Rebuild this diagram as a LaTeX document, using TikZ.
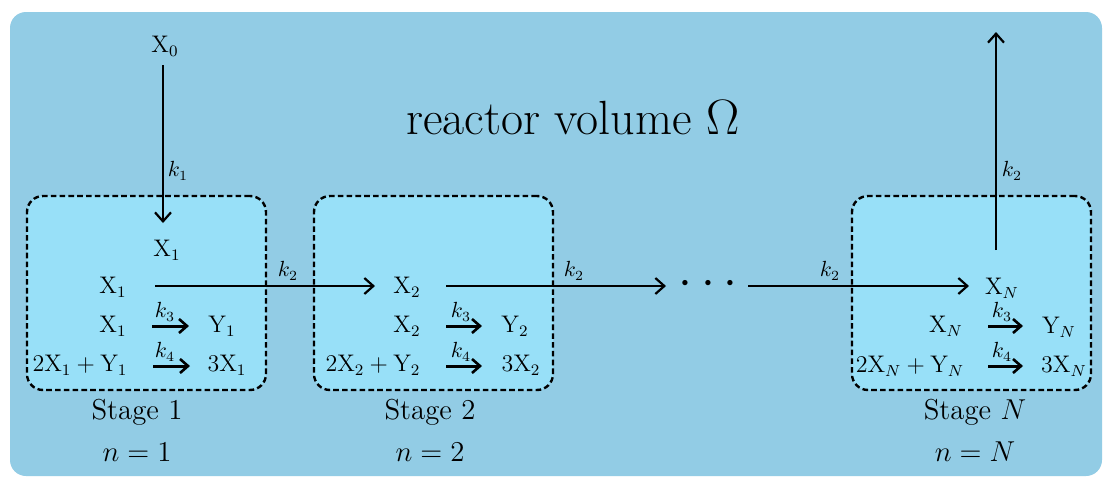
\documentclass[tikz,border=0pt]{standalone}
\usetikzlibrary{arrows.meta}
\definecolor{outerbg}{RGB}{146,204,229}
\definecolor{innerbg}{RGB}{152,224,248}
\tikzset{
  x=0.5pt, y=-0.5pt,
  lbl/.style={inner sep=0pt, font=\fontsize{12}{14}\selectfont},
  klbl/.style={inner sep=0pt, font=\fontsize{10.5}{12}\selectfont},
  stagelbl/.style={inner sep=0pt, font=\fontsize{14.4}{17}\selectfont},
  stagebox/.style={draw=black, fill=innerbg, line width=1.2pt, dash pattern=on 2.8pt off 1.6pt, rounded corners=8pt},
  flow/.style={line width=1.1pt, -{Straight Barb[length=4.5pt,width=8pt,line width=1.1pt]}},
  react/.style={line width=1.5pt, -{Straight Barb[length=4pt,width=7pt,line width=1.3pt]}},
}
\newcommand{\Xv}[1]{$\mathrm{X}_{#1}$}
\begin{document}
\begin{tikzpicture}
\useasboundingbox (0,0) rectangle (1105,477);
\fill[white] (0,0) rectangle (1105,477);
\fill[outerbg, rounded corners=8pt] (10,12) rectangle (1102,476);

\node[inner sep=0pt, font=\fontsize{24}{28}\selectfont] (title) at (573,118) {reactor volume $\Omega$};

% stage boxes
\node[stagebox, minimum width=119.5pt, minimum height=97pt] (box1) at (146.5,293) {};
\node[stagebox, minimum width=119.5pt, minimum height=97pt] (box2) at (433.5,293) {};
\node[stagebox, minimum width=119.5pt, minimum height=97pt] (boxN) at (971.5,293) {};

% stage labels
\node[stagelbl] (s1) at (137,412) {Stage 1};
\node[stagelbl] (n1) at (137,452) {$n=1$};
\node[stagelbl] (s2) at (430,412) {Stage 2};
\node[stagelbl] (n2) at (430,452) {$n=2$};
\node[stagelbl] (sN) at (975,412) {Stage $N$};
\node[stagelbl] (nN) at (975,452) {$n=N$};

% stage 1
\node[lbl] (x0) at (165,46) {\Xv{0}};
\node[lbl] (x1t) at (167,250) {\Xv{1}};
\node[lbl] (x1a) at (113,287) {\Xv{1}};
\node[lbl] (x1b) at (113,326) {\Xv{1}};
\node[lbl] (y1) at (222,326) {$\mathrm{Y}_1$};
\node[lbl] (r1) at (80,365) {$2\mathrm{X}_1+\mathrm{Y}_1$};
\node[lbl] (p1) at (227,365) {$3\mathrm{X}_1$};
\coordinate (a0s) at (163,65);
\coordinate (a0e) at (163,223);
\draw[flow] (a0s) -- (a0e);
\node[klbl] (k1) at (178,171) {$k_1$};
\coordinate (a1s) at (155,286);
\coordinate (a1e) at (375,286);
\draw[flow] (a1s) -- (a1e);
\node[klbl] (k2a) at (288,271) {$k_2$};
\coordinate (b1s) at (152,326);
\coordinate (b1e) at (189,326);
\draw[react] (b1s) -- (b1e);
\node[klbl] (k3a) at (165,312) {$k_3$};
\coordinate (c1s) at (153,366);
\coordinate (c1e) at (190,366);
\draw[react] (c1s) -- (c1e);
\node[klbl] (k4a) at (165,352) {$k_4$};

% stage 2
\node[lbl] (x2a) at (407,287) {\Xv{2}};
\node[lbl] (x2b) at (407,326) {\Xv{2}};
\node[lbl] (y2) at (515,326) {$\mathrm{Y}_2$};
\node[lbl] (r2) at (373,365) {$2\mathrm{X}_2+\mathrm{Y}_2$};
\node[lbl] (p2) at (521,365) {$3\mathrm{X}_2$};
\coordinate (a2s) at (446,286);
\coordinate (a2e) at (666,286);
\draw[flow] (a2s) -- (a2e);
\node[klbl] (k2b) at (574,271) {$k_2$};
\coordinate (b2s) at (446,326);
\coordinate (b2e) at (482,326);
\draw[react] (b2s) -- (b2e);
\node[klbl] (k3b) at (461,312) {$k_3$};
\coordinate (c2s) at (446,366);
\coordinate (c2e) at (482,366);
\draw[react] (c2s) -- (c2e);
\node[klbl] (k4b) at (461,352) {$k_4$};

% dots
\node[inner sep=0pt, font=\fontsize{23}{27}\selectfont] (dots) at (708,284) {$\cdots$};
\coordinate (a3s) at (748,286);
\coordinate (a3e) at (969,286);
\draw[flow] (a3s) -- (a3e);
\node[klbl] (k2c) at (830,271) {$k_2$};

% stage N
\node[lbl] (xNa) at (1002,288) {\Xv{N}};
\node[lbl] (xNb) at (946,326) {\Xv{N}};
\node[lbl] (yN) at (1059,327) {$\mathrm{Y}_N$};
\node[lbl] (rN) at (910,366) {$2\mathrm{X}_N+\mathrm{Y}_N$};
\node[lbl] (pN) at (1064,366) {$3\mathrm{X}_N$};
\coordinate (aNs) at (996,250);
\coordinate (aNe) at (996,32);
\draw[flow] (aNs) -- (aNe);
\node[klbl] (k2d) at (1012,171) {$k_2$};
\coordinate (bNs) at (988,326);
\coordinate (bNe) at (1023,326);
\draw[react] (bNs) -- (bNe);
\node[klbl] (k3c) at (1002,312) {$k_3$};
\coordinate (cNs) at (988,366);
\coordinate (cNe) at (1023,366);
\draw[react] (cNs) -- (cNe);
\node[klbl] (k4c) at (1002,352) {$k_4$};
\end{tikzpicture}
\end{document}
